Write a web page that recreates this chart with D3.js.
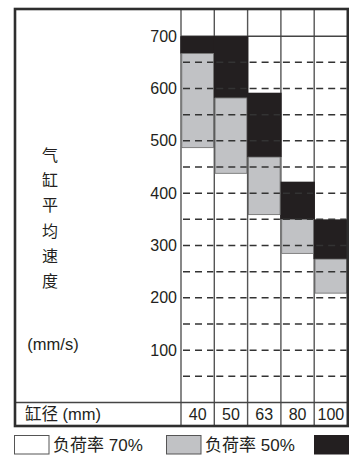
<!DOCTYPE html>
<html><head><meta charset="utf-8">
<script src="https://cdn.jsdelivr.net/npm/d3@7"></script>
<style>html,body{margin:0;padding:0;background:#fff;}svg{display:block;}</style>
</head><body>
<svg id="c" width="349" height="455"></svg>
<script>
const categories = ["40", "50", "63", "80", "100"];
const blackTop = [700, 700, 592, 422, 350];
const grayTop = [667, 582, 469, 350, 274];
const grayBottom = [487, 438, 359, 285, 209];
const yTicks = [100, 200, 300, 400, 500, 600, 700];
const dashValues = [50, 100, 150, 200, 250, 300, 350, 400, 450, 500, 550, 600, 650];
const yTitleChars = ["气", "缸", "平", "均", "速", "度"];
const yUnit = "(mm/s)";
const xTitle = "缸径 (mm)";
const legendLabels = ["负荷率 70%", "负荷率 50%"];

const svg = d3.select("#c");
const FONT = "'Liberation Sans', Arial, sans-serif";
const CJK = "'Liberation Sans', 'Noto Sans CJK SC', sans-serif";

const x = d3.scaleBand().domain(categories).range([181, 347.5]).padding(0);
const y = d3.scaleLinear().domain([0, 700]).range([402.5, 36.2]);

const fLeft = 15, fTop = 9, fRight = 347.8, fBottom = 426;

// vertical column lines
const vx = categories.map(c => x(c));
svg.append("g").selectAll("line").data(vx).join("line")
  .attr("x1", d => d).attr("x2", d => d).attr("y1", fTop).attr("y2", fBottom)
  .attr("stroke", "#555").attr("stroke-width", 1.4);

// solid line at 700
svg.append("line").attr("x1", x.range()[0]).attr("x2", fRight).attr("y1", y(700)).attr("y2", y(700))
  .attr("stroke", "#444").attr("stroke-width", 1.4);

// bars
const data = categories.map((c, i) => ({c, bt: blackTop[i], gt: grayTop[i], gb: grayBottom[i]}));
svg.append("g").selectAll("rect").data(data).join("rect")
  .attr("x", d => x(d.c) - 0.7).attr("width", x.bandwidth() + 1.4)
  .attr("y", d => y(d.bt)).attr("height", d => y(d.gt) - y(d.bt))
  .attr("fill", "#231f20");
svg.append("g").selectAll("rect").data(data).join("rect")
  .attr("x", d => x(d.c) + 0.8).attr("width", x.bandwidth() - 1.6)
  .attr("y", d => y(d.gt)).attr("height", d => y(d.gb) - y(d.gt))
  .attr("fill", "#c1c2c5").attr("stroke", "#6a6a6a").attr("stroke-width", 0.8);

// dashed gridlines per column
const dg = svg.append("g");
dashValues.forEach(v => {
  categories.forEach(c => {
    dg.append("line")
      .attr("x1", x(c) + 2).attr("x2", x(c) + x.bandwidth() - 1)
      .attr("y1", y(v)).attr("y2", y(v))
      .attr("stroke", "#333").attr("stroke-width", 1.5)
      .attr("stroke-dasharray", "7,5");
  });
});

// y axis labels
const ax = svg.append("g").attr("transform", `translate(${x.range()[0]},0)`)
  .call(d3.axisLeft(y).tickValues(yTicks).tickSize(0).tickPadding(4).tickFormat(d3.format("d")));
ax.select(".domain").remove();
ax.selectAll("text").attr("font-family", FONT).attr("font-size", 16).attr("fill", "#231f20");

// y title
svg.append("g").selectAll("text").data(yTitleChars).join("text")
  .attr("x", 50).attr("y", (d, i) => 155 + i * 25.3).attr("dy", "0.35em")
  .attr("text-anchor", "middle").attr("font-family", CJK).attr("font-size", 16)
  .attr("fill", "#231f20").text(d => d);
svg.append("text").attr("x", 53).attr("y", 344).attr("dy", "0.35em")
  .attr("text-anchor", "middle").attr("font-family", FONT).attr("font-size", 16.5)
  .attr("fill", "#231f20").text(yUnit);

// bottom row separator
svg.append("line").attr("x1", fLeft).attr("x2", fRight).attr("y1", 402.5).attr("y2", 402.5)
  .attr("stroke", "#444").attr("stroke-width", 1.4);

// x labels
svg.append("g").selectAll("text").data(categories).join("text")
  .attr("x", d => x(d) + x.bandwidth() / 2).attr("y", 414.5).attr("dy", "0.35em")
  .attr("text-anchor", "middle").attr("font-family", FONT).attr("font-size", 16)
  .attr("fill", "#231f20").text(d => d);
svg.append("text").attr("x", 25).attr("y", 414.5).attr("dy", "0.35em")
  .attr("font-family", CJK).attr("font-size", 16.5).attr("fill", "#231f20").text(xTitle);

// outer frame
svg.append("rect").attr("x", fLeft).attr("y", fTop).attr("width", fRight - fLeft).attr("height", fBottom - fTop)
  .attr("fill", "none").attr("stroke", "#2e2e2e").attr("stroke-width", 2.6);

// legend
const legendFills = ["#ffffff", "#c1c2c5", "#231f20"];
const legendX = [14, 166, 314];
const lg = svg.append("g");
legendFills.forEach((f, i) => {
  lg.append("rect").attr("x", legendX[i] + 0.5).attr("y", 435.5).attr("width", 34.5).attr("height", 18.5)
    .attr("fill", f).attr("stroke", i === 2 ? "#231f20" : "#555").attr("stroke-width", 1);
});
legendLabels.forEach((t, i) => {
  lg.append("text").attr("x", legendX[i] + 39).attr("y", 445).attr("dy", "0.35em")
    .attr("font-family", CJK).attr("font-size", 17).attr("fill", "#231f20").text(t);
});
</script>
</body></html>
